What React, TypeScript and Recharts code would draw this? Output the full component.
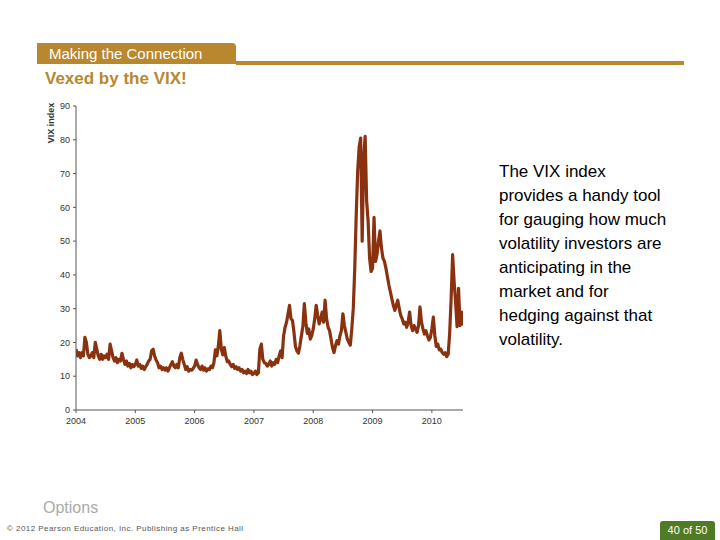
import { CartesianGrid, Line, LineChart, XAxis, YAxis } from "recharts";

// VIX readings, roughly every 1/40 of a year from Jan 2004 to mid 2010
const vix: number[] = [
  // 2004
  18, 16, 17, 15.5, 17, 16, 21.5, 20, 16.5, 15.5,
  16, 17, 15.5, 20, 18, 16, 15, 16.5, 15, 16,
  15.5, 16.5, 15, 19.5, 17.5, 15.5, 14.5, 15.5, 14, 15,
  14.5, 16.8, 15, 13.5, 14.5, 13, 13.8, 12.5, 13.5, 12.8,
  // 2005
  13.5, 14.8, 13, 13.5, 12.3, 13, 12, 12.8, 13.5, 14.5,
  15, 17.5, 18, 16, 14.8, 14, 12.5, 13, 12, 12.5,
  11.8, 12.5, 11.5, 12.5, 13.5, 14.3, 13, 12.5, 13.5, 12.5,
  15.5, 16.8, 15, 13.5, 12, 12.8, 11.5, 12, 11.8, 12.3,
  // 2006
  13, 14.8, 13.5, 12.5, 12, 13, 11.8, 12.5, 11.5, 12.2,
  12, 13, 12.5, 14, 17.8, 16, 19, 23.5, 18, 16.3,
  18.5, 16, 14.3, 14.5, 13.5, 12.8, 13.5, 12.3, 12.8, 12,
  12.5, 11.5, 12, 11, 11.5, 10.8, 12, 11, 11.5, 10.5,
  // 2007
  10.8, 11.5, 10.5, 11, 18, 19.5, 15, 14, 13.8, 13,
  13.5, 14.5, 13, 14, 13.5, 15, 14, 16, 17.5, 15.5,
  22, 24.5, 26, 28.5, 31, 27, 26.5, 23, 18.8, 17.5,
  16.8, 19, 22, 24.7, 31.5, 26, 22.7, 24, 21, 22,
  // 2008
  24, 27, 31, 28, 25.5, 27, 29, 26, 32.5, 27,
  24.5, 23.5, 21, 18.5, 17, 19, 20.5, 19.5, 22, 23.5,
  28.5, 25, 23, 21, 20, 19.2, 24, 30, 42, 58,
  71, 78, 80.5, 50, 74, 81, 62, 56, 45, 41,
  // 2009
  42, 57, 44, 46, 50, 53, 48, 45, 44, 42,
  39.5, 37, 35, 33, 31, 29.5, 31, 32.5, 30, 28,
  27, 25.5, 26, 24.5, 26, 29, 25, 23.5, 25, 24,
  23, 25, 30.5, 26, 24, 22.5, 23.5, 22, 20.7, 21.5,
  // 2010
  24, 27.5, 22, 18.8, 19.5, 17.8, 18, 17, 16.5, 17,
  15.8, 16.5, 22.7, 33, 46, 38, 32, 24.7, 36, 25,
  29, 25,
];

const startYear = 2004;
const stepsPerYear = 40;
const yearTicks = [2004, 2005, 2006, 2007, 2008, 2009, 2010];
const vixTicks = [0, 10, 20, 30, 40, 50, 60, 70, 80, 90];

const sideText = [
  "The VIX index",
  "provides a handy tool",
  "for gauging how much",
  "volatility investors are",
  "anticipating in the",
  "market and for",
  "hedging against that",
  "volatility.",
];

const data = vix.map((v, i) => ({ t: startYear + i / stepsPerYear, v }));

const gold = "#b9872d";
const lineColor = "#8a3210";
const axisColor = "#555";

export default function App() {
  return (
    <div
      style={{
        position: "absolute",
        left: 0,
        top: 0,
        width: 720,
        height: 540,
        background: "#fff",
        fontFamily: "'Liberation Sans', Arial, sans-serif",
        overflow: "hidden",
      }}
    >
      {/* header tab */}
      <div
        style={{
          position: "absolute",
          left: 37,
          top: 43,
          width: 199,
          height: 21,
          background: gold,
          borderTopRightRadius: 4,
          color: "#fff",
          fontSize: 15,
          lineHeight: "21px",
          paddingLeft: 12,
          boxSizing: "border-box",
        }}
      >
        Making the Connection
      </div>
      <div style={{ position: "absolute", left: 236, top: 61, width: 448, height: 4, background: gold }} />
      <div
        style={{
          position: "absolute",
          left: 45,
          top: 68,
          color: gold,
          fontSize: 17,
          fontWeight: "bold",
          lineHeight: "22px",
        }}
      >
        Vexed by the VIX!
      </div>

      <div style={{ position: "absolute", left: 0, top: 0 }}>
        <LineChart width={720} height={540} data={data} margin={{ top: 106, right: 257, bottom: 110, left: 46 }}>
          <CartesianGrid stroke="none" />
          <XAxis
            dataKey="t"
            type="number"
            domain={[2004, 2010.525]}
            ticks={yearTicks}
            allowDataOverflow
            height={20}
            tickSize={3}
            tickMargin={5}
            stroke={axisColor}
            tick={{ fill: "#333", fontSize: 9 }}
          />
          <YAxis
            domain={[0, 90]}
            ticks={vixTicks}
            width={30}
            tickSize={3}
            tickMargin={3}
            stroke={axisColor}
            tick={{ fill: "#333", fontSize: 9 }}
          />
          <Line
            dataKey="v"
            type="linear"
            stroke={lineColor}
            strokeWidth={3.2}
            strokeLinejoin="round"
            dot={false}
            isAnimationActive={false}
          />
        </LineChart>
      </div>

      {/* y label */}
      <div
        style={{
          position: "absolute",
          left: 51,
          top: 123,
          transform: "translate(-50%, -50%) rotate(-90deg)",
          fontSize: 9,
          fontWeight: "bold",
          color: "#333",
          whiteSpace: "nowrap",
        }}
      >
        VIX index
      </div>

      {/* side text */}
      <div style={{ position: "absolute", left: 499, top: 160, fontSize: 17, lineHeight: "24px", color: "#000" }}>
        {sideText.map((s) => (
          <div key={s}>{s}</div>
        ))}
      </div>

      <div style={{ position: "absolute", left: 43, top: 499, fontSize: 16, color: "#aaa" }}>Options</div>
      <div style={{ position: "absolute", left: 7, top: 524, fontSize: 8, color: "#555", letterSpacing: 0.45 }}>
        © 2012 Pearson Education, Inc. Publishing as Prentice Hall
      </div>
      <div
        style={{
          position: "absolute",
          left: 660,
          top: 521,
          width: 55,
          height: 19,
          background: "#4f7a26",
          borderTopLeftRadius: 3,
          borderTopRightRadius: 3,
          color: "#fff",
          fontSize: 11,
          lineHeight: "19px",
          textAlign: "center",
        }}
      >
        40 of 50
      </div>
    </div>
  );
}
